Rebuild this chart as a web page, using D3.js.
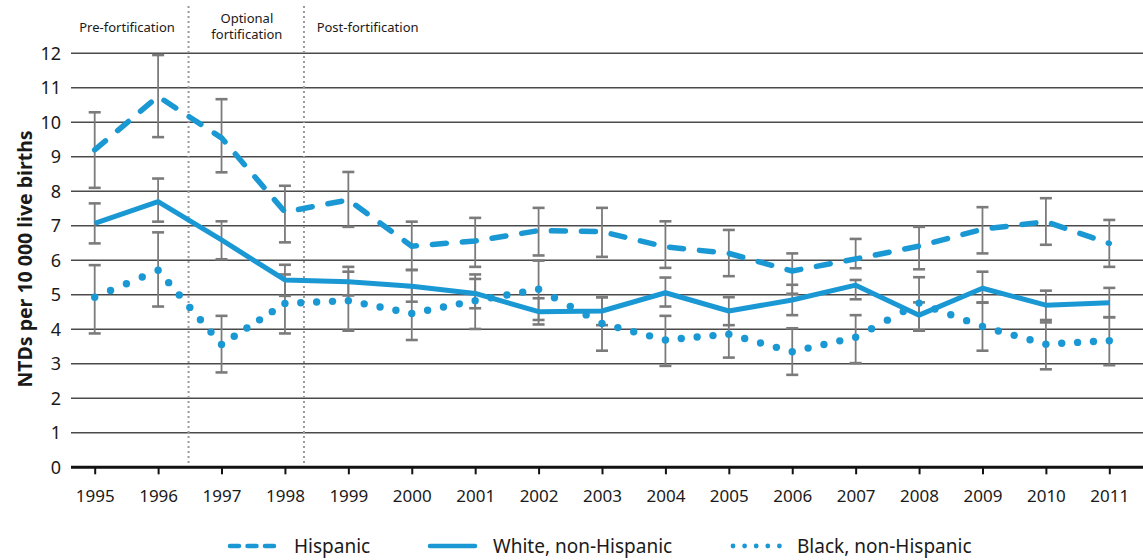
<!DOCTYPE html>
<html>
<head>
<meta charset="utf-8">
<script src="https://cdn.jsdelivr.net/npm/d3@7"></script>
<style>
  html, body { margin: 0; padding: 0; background: #fff; }
  svg { display: block; font-family: "Noto Sans", sans-serif; }
</style>
</head>
<body>
<svg id="chart" width="1143" height="560"></svg>
<script>
const years = [1995,1996,1997,1998,1999,2000,2001,2002,2003,2004,2005,2006,2007,2008,2009,2010,2011];
const yTickValues = [0,1,2,3,4,5,6,7,8,9,10,11,12];

const hispanic     = [9.2, 10.75, 9.55, 7.4, 7.75, 6.41, 6.56, 6.86, 6.83, 6.39, 6.2, 5.69, 6.04, 6.41, 6.9, 7.12, 6.49];
const hispanicLow  = [8.1, 9.57, 8.55, 6.52, 6.97, 5.72, 5.81, 6.14, 6.10, 5.78, 5.54, 5.03, 5.77, 5.74, 6.2, 6.45, 5.81];
const hispanicHigh = [10.29, 11.95, 10.67, 8.16, 8.56, 7.12, 7.23, 7.52, 7.52, 7.13, 6.88, 6.2, 6.62, 6.97, 7.54, 7.8, 7.17];

const white     = [7.07, 7.7, 6.59, 5.43, 5.38, 5.25, 5.04, 4.51, 4.53, 5.06, 4.53, 4.85, 5.28, 4.41, 5.19, 4.7, 4.77];
const whiteLow  = [6.49, 7.12, 6.03, 4.97, 4.98, 4.8, 4.61, 4.14, 4.12, 4.66, 4.12, 4.41, 4.87, 3.96, 4.77, 4.2, 4.35];
const whiteHigh = [7.65, 8.37, 7.13, 5.87, 5.81, 5.72, 5.46, 4.9, 4.93, 5.5, 4.93, 5.29, 5.43, 4.78, 5.67, 5.12, 5.2];

const black     = [4.93, 5.71, 3.56, 4.75, 4.83, 4.46, 4.83, 5.16, 4.17, 3.69, 3.86, 3.35, 3.77, 4.76, 4.08, 3.57, 3.67];
const blackLow  = [3.88, 4.66, 2.75, 3.88, 3.96, 3.69, 4.01, 4.27, 3.38, 2.94, 3.18, 2.68, 3.02, 3.96, 3.38, 2.84, 2.96];
const blackHigh = [5.86, 6.81, 4.39, 5.59, 5.67, 5.23, 5.59, 5.99, 4.93, 4.39, 4.56, 4.03, 4.41, 5.51, 4.78, 4.27, 4.35];

const periodDividers = [1996.48, 1998.3];
const periodLabels = [
  { lines: ["Pre-fortification"], at: 1995.51, anchor: "middle" },
  { lines: ["Optional", "fortification"], at: 1997.4, anchor: "middle" },
  { lines: ["Post-fortification"], at: 1998.5, anchor: "start" }
];
const seriesNames = ["Hispanic", "White, non-Hispanic", "Black, non-Hispanic"];
const yTitle = "NTDs per 10 000 live births";

const BLUE = "#1a98d4";
const GREY = "#7b7b7b";

const svg = d3.select("#chart");
const x = d3.scaleLinear().domain([1995, 2011]).range([94.7, 1109.3]);
const y = d3.scaleLinear().domain([0, 12]).range([467.3, 53.3]);
const plotLeft = 71, plotRight = 1143;

// gridlines
svg.append("g").selectAll("line").data(yTickValues.filter(d => d > 0)).join("line")
  .attr("x1", plotLeft).attr("x2", plotRight)
  .attr("y1", d => y(d)).attr("y2", d => y(d))
  .attr("stroke", "#4a4a4a").attr("stroke-width", 1.4);

// y labels
svg.append("g").selectAll("text").data(yTickValues).join("text")
  .attr("x", 61).attr("y", d => y(d)).attr("dy", "0.36em")
  .attr("text-anchor", "end").attr("font-size", 18).attr("fill", "#1a1a1a")
  .text(d => d);

// y title
svg.append("text")
  .attr("transform", `translate(32,259) rotate(-90)`)
  .attr("text-anchor", "middle").attr("font-size", 19.5).attr("font-weight", 700)
  .attr("fill", "#1a1a1a").text(yTitle);

// period dividers
svg.append("g").selectAll("line").data(periodDividers).join("line")
  .attr("x1", d => x(d)).attr("x2", d => x(d))
  .attr("y1", 6).attr("y2", y(0))
  .attr("stroke", "#9a9a9a").attr("stroke-width", 2).attr("stroke-dasharray", "2,3");

// period labels
periodLabels.forEach(p => {
  const t = svg.append("text").attr("text-anchor", p.anchor).attr("font-size", 13).attr("fill", "#1a1a1a");
  const baseY = p.lines.length === 1 ? 31.5 : 22.5;
  p.lines.forEach((ln, i) => {
    t.append("tspan").attr("x", x(p.at)).attr("y", baseY + i * 16.5).text(ln);
  });
});

// x axis
const xAxis = svg.append("g").attr("transform", `translate(0,${y(0)})`)
  .call(d3.axisBottom(x).tickValues(years).tickFormat(d3.format("d")).tickSize(7).tickPadding(0));
xAxis.select(".domain").remove();
xAxis.selectAll(".tick line").attr("stroke", "#111").attr("stroke-width", 2);
xAxis.selectAll(".tick text").attr("y", 34.5).attr("dy", 0).attr("font-size", 17)
  .attr("font-family", "Noto Sans, sans-serif").attr("fill", "#1a1a1a");
svg.append("line").attr("x1", plotLeft).attr("x2", plotRight)
  .attr("y1", y(0)).attr("y2", y(0)).attr("stroke", "#111").attr("stroke-width", 3);

// error bars
function errorBars(low, high) {
  const g = svg.append("g");
  years.forEach((yr, i) => {
    const cx = x(yr);
    g.append("line").attr("x1", cx).attr("x2", cx).attr("y1", y(low[i])).attr("y2", y(high[i]))
      .attr("stroke", GREY).attr("stroke-width", 1.8);
    [low[i], high[i]].forEach(v => {
      g.append("line").attr("x1", cx - 6).attr("x2", cx + 6).attr("y1", y(v)).attr("y2", y(v))
        .attr("stroke", GREY).attr("stroke-width", 2.6);
    });
  });
}
errorBars(hispanicLow, hispanicHigh);
errorBars(whiteLow, whiteHigh);
errorBars(blackLow, blackHigh);

const line = d3.line().x((d, i) => x(years[i])).y(d => y(d));

// white solid
svg.append("path").attr("d", line(white)).attr("fill", "none")
  .attr("stroke", BLUE).attr("stroke-width", 5).attr("stroke-linejoin", "round");

// hispanic dashed
svg.append("path").attr("d", line(hispanic)).attr("fill", "none")
  .attr("stroke", BLUE).attr("stroke-width", 5.5).attr("stroke-linecap", "round")
  .attr("stroke-linejoin", "round").attr("stroke-dasharray", "14,16");

// black dotted
const dotG = svg.append("g");
for (let i = 0; i < years.length - 1; i++) {
  const x0 = x(years[i]), y0 = y(black[i]), x1 = x(years[i + 1]), y1 = y(black[i + 1]);
  const L = Math.hypot(x1 - x0, y1 - y0);
  const n = Math.max(1, Math.round(L / 16.3));
  const last = (i === years.length - 2) ? n : n - 1;
  for (let k = 0; k <= last; k++) {
    const t = k / n;
    dotG.append("circle").attr("cx", x0 + (x1 - x0) * t).attr("cy", y0 + (y1 - y0) * t)
      .attr("r", 3.7).attr("fill", BLUE);
  }
}

// legend
const legY = 546;
const leg = svg.append("g");
// Hispanic
leg.append("line").attr("x1", 230).attr("x2", 276).attr("y1", legY).attr("y2", legY)
  .attr("stroke", BLUE).attr("stroke-width", 4.5).attr("stroke-linecap", "round")
  .attr("stroke-dasharray", "9,8.5");
leg.append("text").attr("x", 294).attr("y", legY).attr("dy", "0.36em").attr("font-size", 19)
  .attr("fill", "#1a1a1a").text(seriesNames[0]);
// White
leg.append("line").attr("x1", 430).attr("x2", 475).attr("y1", legY).attr("y2", legY)
  .attr("stroke", BLUE).attr("stroke-width", 4.5).attr("stroke-linecap", "round");
leg.append("text").attr("x", 493).attr("y", legY).attr("dy", "0.36em").attr("font-size", 19)
  .attr("fill", "#1a1a1a").text(seriesNames[1]);
// Black
d3.range(5).forEach(k => {
  leg.append("circle").attr("cx", 733 + k * 11.6).attr("cy", legY).attr("r", 2.4).attr("fill", BLUE);
});
leg.append("text").attr("x", 797).attr("y", legY).attr("dy", "0.36em").attr("font-size", 19)
  .attr("fill", "#1a1a1a").text(seriesNames[2]);
</script>
</body>
</html>
